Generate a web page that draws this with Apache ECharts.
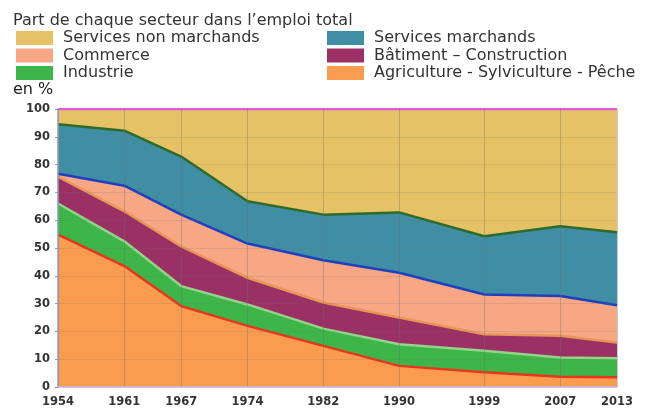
<!DOCTYPE html>
<html>
<head>
<meta charset="utf-8">
<script src="https://cdn.jsdelivr.net/npm/echarts@6/dist/echarts.min.js"></script>
<style>
  html, body { margin: 0; padding: 0; background: #fff; }
  #chart { width: 649px; height: 408px; }
</style>
</head>
<body>
<div id="chart"></div>
<script>
// Share of each sector in total employment (%), census years
const years = [1954, 1961, 1967, 1974, 1982, 1990, 1999, 2007, 2013];
const agriculture = [54.8, 43.5, 29.1, 22.0, 14.8, 7.6, 5.3, 3.7, 3.5];
const industrie = [11.2, 8.9, 7.2, 7.7, 6.2, 7.8, 7.7, 6.9, 6.8];
const batiment = [9.7, 10.8, 14.3, 9.6, 9.4, 9.6, 6.0, 7.8, 5.7];
const commerce = [1.0, 9.2, 11.4, 12.3, 15.2, 16.1, 14.3, 14.3, 13.4];
const servicesMarchands = [17.8, 19.8, 20.9, 15.2, 16.4, 21.7, 20.9, 25.1, 26.3];
const servicesNonMarchands = [5.5, 7.8, 17.1, 33.2, 38.0, 37.2, 45.8, 42.2, 44.3];
const yTicks = [0, 10, 20, 30, 40, 50, 60, 70, 80, 90, 100];

const FONT = 'DejaVu Sans, Verdana, sans-serif';

// stacked layers, bottom to top
const layers = [
  { name: 'Agriculture - Sylviculture - Pêche', data: agriculture, fill: '#FA9C50', line: '#E8361E' },
  { name: 'Industrie', data: industrie, fill: '#3DB548', line: '#93D38A' },
  { name: 'Bâtiment – Construction', data: batiment, fill: '#9A3063', line: '#E9965A' },
  { name: 'Commerce', data: commerce, fill: '#F8A784', line: '#1F3FC0' },
  { name: 'Services marchands', data: servicesMarchands, fill: '#3F8EA4', line: '#2F6A2A' },
  { name: 'Services non marchands', data: servicesNonMarchands, fill: '#E4C265', line: '#E65CDF' }
];

// running totals: each layer is filled from the axis up to its cumulative top,
// upper layers sit underneath so only the band of each sector shows
const running = years.map(() => 0);
const series = layers.map((l, i) => {
  const tops = years.map((y, k) => {
    running[k] = Math.round((running[k] + l.data[k]) * 10) / 10;
    return [y, running[k]];
  });
  return {
    name: l.name,
    type: 'line',
    z: 9 - i,
    symbol: 'none',
    data: tops,
    itemStyle: { color: l.fill },
    lineStyle: { color: l.line, width: 2.5 },
    areaStyle: { color: l.fill, opacity: 1 },
    emphasis: { disabled: true }
  };
});

const legendText = { fontFamily: FONT, fontSize: 16, color: '#333', lineHeight: 14, padding: [0, 0, 0, 5] };
const legendBase = {
  orient: 'vertical', icon: 'rect', itemWidth: 37, itemHeight: 14, itemGap: 1.5,
  padding: 0, textStyle: legendText, selectedMode: false, itemStyle: { borderWidth: 0 }
};

const chart = echarts.init(document.getElementById('chart'), null, { renderer: 'canvas' });
chart.setOption({
  animation: false,
  backgroundColor: '#fff',
  title: [
    { text: 'Part de chaque secteur dans l’emploi total', left: 8, top: 8,
      textStyle: { fontFamily: FONT, fontSize: 16, fontWeight: 'normal', color: '#333' } },
    { text: 'en %', left: 8, top: 77,
      textStyle: { fontFamily: FONT, fontSize: 16, fontWeight: 'normal', color: '#222' } }
  ],
  legend: [
    Object.assign({ left: 16, top: 30, data: ['Services non marchands', 'Commerce', 'Industrie'] }, legendBase),
    Object.assign({ left: 327, top: 30,
      data: ['Services marchands', 'Bâtiment – Construction', 'Agriculture - Sylviculture - Pêche'] }, legendBase)
  ],
  grid: { left: 58, right: 32, top: 109, bottom: 20, containLabel: false },
  xAxis: {
    type: 'value',
    min: years[0],
    max: years[years.length - 1],
    z: 20,
    axisLine: { show: true, lineStyle: { color: '#C8B8E0', width: 1.5 } },
    axisTick: { show: false, customValues: years },
    axisLabel: { customValues: years, fontFamily: FONT, fontSize: 11.5, fontWeight: 'bold', color: '#333', margin: 9,
      formatter: v => String(v) },
    splitLine: { show: true, lineStyle: { color: 'rgba(110,110,110,0.35)', width: 1 } }
  },
  yAxis: {
    type: 'value',
    min: 0,
    max: 100,
    interval: 10,
    z: 20,
    axisLine: { show: true, lineStyle: { color: '#8A9CB5', width: 1.5 } },
    axisTick: { show: true, length: 3, lineStyle: { color: '#8A9CB5' } },
    axisLabel: { fontFamily: FONT, fontSize: 11.5, fontWeight: 'bold', color: '#333', margin: 8,
      customValues: yTicks },
    splitLine: { show: true, lineStyle: { color: 'rgba(110,110,110,0.18)', width: 1 } }
  },
  series: series
});
</script>
</body>
</html>
